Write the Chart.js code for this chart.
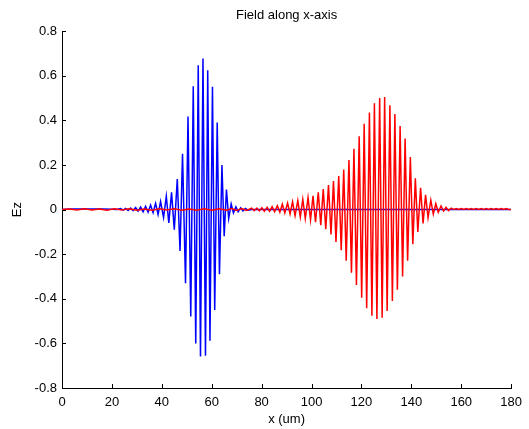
<!DOCTYPE html>
<html>
<head>
<meta charset="utf-8">
<script src="https://cdn.jsdelivr.net/npm/chart.js@4"></script>
<style>
  html, body { margin: 0; padding: 0; background: #fff; }
  #wrap { width: 529px; height: 429px; }
</style>
</head>
<body>
<div id="wrap"><canvas id="chart" width="529" height="429"></canvas></div>
<script>
// ── Data ─────────────────────────────────────────────────────────────────────
const xTicks = [0, 20, 40, 60, 80, 100, 120, 140, 160, 180];
const yTicks = [-0.8, -0.6, -0.4, -0.2, 0, 0.2, 0.4, 0.6, 0.8];

// blue pulse (left packet)
const blueX = [
  0, 4, 8, 12, 16, 20, 22, 23.5, 24.5, 25.5,
  26.5, 27.5, 28.5, 29.5, 30.5, 31.5, 32.5, 33.5, 34.5, 35.5,
  36.5, 37.5, 38.5, 39.5, 40.7, 41.8, 42.8, 43.9, 45.0, 46.2,
  47.3, 48.3, 49.5, 50.5, 51.6, 52.6, 53.6, 54.6, 55.5, 56.5,
  57.5, 58.4, 59.3, 60.3, 61.2, 62.2, 63.1, 64.1, 65.0, 65.9,
  66.8, 67.8, 68.7, 69.7, 70.6, 71.6, 72.5, 73.5, 74.5, 76,
  180
];
const blueEz = [
  0, 0.002, 0.003, 0.003, 0.002, 0.001, 0, 0.004, -0.003, 0.005,
  -0.004, 0.007, -0.005, 0.009, -0.007, 0.011, -0.010, 0.014, -0.012, 0.020,
  -0.014, 0.028, -0.022, 0.036, -0.035, 0.060, -0.060, 0.077, -0.090, 0.137,
  -0.186, 0.250, -0.330, 0.417, -0.479, 0.553, -0.600, 0.647, -0.659, 0.677,
  -0.655, 0.625, -0.588, 0.550, -0.450, 0.390, -0.290, 0.200, -0.120, 0.090,
  -0.040, 0.025, -0.015, 0.012, -0.010, 0.008, -0.006, 0.005, -0.003, 0,
  0
];

// red pulse (right packet)
const redX = [
  0, 3, 6, 9, 12, 15, 18, 21, 24, 27,
  30, 33, 36, 39, 42, 45, 48, 51, 54, 57,
  60, 63, 66, 68, 70, 72, 74,
  76.0, 77.0, 78.1, 79.1, 80.1, 81.1, 82.2, 83.2, 84.2, 85.2,
  86.3, 87.3, 88.3, 89.3, 90.4, 91.4, 92.4, 93.4, 94.5, 95.5,
  96.5, 97.5, 98.6, 99.6, 100.6, 101.6, 102.7, 103.7, 104.7, 105.7,
  106.8, 107.8, 108.8, 109.8, 110.9, 111.9, 112.9, 113.9, 115.0, 116.0,
  117.0, 118.0, 119.1, 120.1, 121.1, 122.1, 123.2, 124.2, 125.2, 126.2,
  127.3, 128.3, 129.3, 130.3, 131.4, 132.4, 133.4, 134.4, 135.5, 136.5,
  137.5, 138.5, 139.6, 140.6, 141.6, 142.6, 143.7, 144.7, 145.7, 146.7,
  147.8, 148.8, 149.8, 150.8, 151.9, 152.9, 153.9, 154.9, 156.0,
  157, 158, 159, 160, 161, 162, 163, 164, 165, 166,
  167, 168, 169, 170, 171, 172, 173, 174, 175, 176,
  177, 178, 179, 180
];
const redEz = [
  0, 0.002, -0.002, 0.003, -0.002, 0.002, -0.003, 0.003, -0.002, 0.003,
  -0.003, 0.002, -0.003, 0.003, -0.002, 0.003, -0.003, 0.002, -0.003, 0.003,
  -0.003, 0.004, -0.003, 0.004, -0.004, 0.005, -0.004,
  0.006, -0.005, 0.007, -0.006, 0.008, -0.007, 0.010, -0.008, 0.013, -0.010,
  0.017, -0.012, 0.024, -0.015, 0.029, -0.020, 0.035, -0.028, 0.040, -0.034,
  0.046, -0.040, 0.053, -0.046, 0.062, -0.057, 0.077, -0.070, 0.092, -0.088,
  0.110, -0.112, 0.128, -0.145, 0.150, -0.182, 0.180, -0.230, 0.222, -0.283,
  0.272, -0.338, 0.328, -0.395, 0.385, -0.442, 0.435, -0.476, 0.476, -0.491,
  0.500, -0.485, 0.505, -0.455, 0.468, -0.410, 0.428, -0.360, 0.375, -0.300,
  0.318, -0.230, 0.235, -0.155, 0.140, -0.100, 0.098, -0.062, 0.066, -0.036,
  0.042, -0.020, 0.026, -0.012, 0.016, -0.007, 0.010, -0.005, 0.006,
  0, 0.004, 0, 0.004, 0, 0.004, 0, 0.004, 0, 0.004,
  0, 0.004, 0, 0.004, 0, 0.004, 0, 0.004, 0, 0.004,
  0, 0.004, 0, 0
];

// ── Helpers ──────────────────────────────────────────────────────────────────
const FONT = 'Liberation Sans, Arial, sans-serif';

function points(xs, ys) {
  const n = Math.min(xs.length, ys.length);
  const out = [];
  for (let i = 0; i < n; i++) out.push({ x: xs[i], y: ys[i] });
  return out;
}

function fmt(v) {
  const r = Math.round(v * 10) / 10;
  return r === 0 ? '0' : String(r);
}

// inward tick marks, MATLAB style
const inwardTicks = {
  id: 'inwardTicks',
  afterDatasetsDraw(chart) {
    const { ctx, chartArea, scales } = chart;
    ctx.save();
    ctx.strokeStyle = '#000';
    ctx.lineWidth = 1;
    ctx.beginPath();
    xTicks.forEach(v => {
      const px = Math.round(scales.x.getPixelForValue(v)) + 0.5;
      ctx.moveTo(px, chartArea.bottom);
      ctx.lineTo(px, chartArea.bottom - 4);
    });
    yTicks.forEach(v => {
      const py = Math.round(scales.y.getPixelForValue(v)) + 0.5;
      ctx.moveTo(chartArea.left, py);
      ctx.lineTo(chartArea.left + 4, py);
    });
    ctx.stroke();
    ctx.restore();
  }
};

// ── Chart ────────────────────────────────────────────────────────────────────
new Chart(document.getElementById('chart'), {
  type: 'line',
  data: {
    datasets: [{
      label: 'blue',
      data: points(blueX, blueEz),
      borderColor: '#0000ff',
      borderWidth: 1.5,
      pointRadius: 0,
      tension: 0,
      order: 1
    }, {
      label: 'red',
      data: points(redX, redEz),
      borderColor: '#ff0000',
      borderWidth: 1.5,
      pointRadius: 0,
      tension: 0,
      order: 0
    }]
  },
  options: {
    responsive: false,
    animation: false,
    events: [],
    layout: { padding: { left: 0, right: 17, top: 0, bottom: 0 } },
    plugins: {
      legend: { display: false },
      tooltip: { enabled: false },
      title: {
        display: true,
        fullSize: false,
        text: 'Field along x-axis',
        color: '#000',
        font: { family: FONT, size: 13, weight: 'normal' },
        padding: { top: 7.5, bottom: 8 }
      }
    },
    scales: {
      x: {
        type: 'linear',
        min: 0,
        max: 180,
        afterFit: s => { s.height = 41; },
        afterBuildTicks: s => { s.ticks = xTicks.map(v => ({ value: v })); },
        grid: { display: false, drawTicks: false },
        border: { display: true, color: '#000', width: 1 },
        ticks: {
          autoSkip: false,
          maxRotation: 0,
          padding: 7,
          color: '#000',
          font: { family: FONT, size: 13 },
          callback: v => String(v)
        },
        title: {
          display: true,
          text: 'x (um)',
          color: '#000',
          font: { family: FONT, size: 13 },
          padding: { top: 0, bottom: 2 }
        }
      },
      y: {
        type: 'linear',
        min: -0.8,
        max: 0.8,
        afterFit: s => { s.width = 62; },
        afterBuildTicks: s => { s.ticks = yTicks.map(v => ({ value: v })); },
        grid: { display: false, drawTicks: false },
        border: { display: true, color: '#000', width: 1 },
        ticks: {
          autoSkip: false,
          padding: 5,
          color: '#000',
          font: { family: FONT, size: 13 },
          callback: v => fmt(v)
        },
        title: {
          display: true,
          text: 'Ez',
          color: '#000',
          font: { family: FONT, size: 13 },
          padding: { top: 10, bottom: 0 }
        }
      }
    }
  },
  plugins: [inwardTicks]
});
</script>
</body>
</html>
